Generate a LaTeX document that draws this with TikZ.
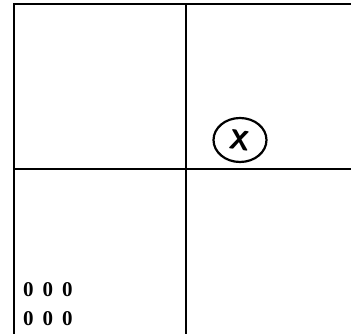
\documentclass[tikz,border=0pt]{standalone}
\usepackage{fontspec}
\newfontfamily\digitfont{Liberation Serif}
\usepackage{tikz}
\usetikzlibrary{shapes.geometric}
\begin{document}
\begin{tikzpicture}[x=1pt,y=-1pt,
  gridline/.style={line width=2.2pt,black},
  digits/.style={font=\digitfont\bfseries\fontsize{21}{24}\selectfont}]
\useasboundingbox (0,0) rectangle (351,334);
\coordinate (tl) at (14,4);
\coordinate (tr) at (351,4);
\coordinate (bl) at (14,334);
\coordinate (ml) at (14,169);
\coordinate (mr) at (351,169);
\coordinate (tm) at (186,4);
\coordinate (bm) at (186,334);
\draw[gridline] (tr) -- (tl) -- (bl);
\draw[gridline] (ml) -- (mr);
\draw[gridline] (tm) -- (bm);
\node[draw,line width=2.2pt,ellipse,minimum width=53pt,minimum height=44pt,inner sep=0pt] (mark) at (240,140) {};
\node[rotate=-8,font=\sffamily\bfseries\fontsize{28}{30}\selectfont] (xlabel) at (mark.center) {X};
\node[digits] (row1) at (48,290) {0\hspace{9pt}0\hspace{9pt}0};
\node[digits] (row2) at (48,319) {0\hspace{9pt}0\hspace{9pt}0};
\end{tikzpicture}
\end{document}
